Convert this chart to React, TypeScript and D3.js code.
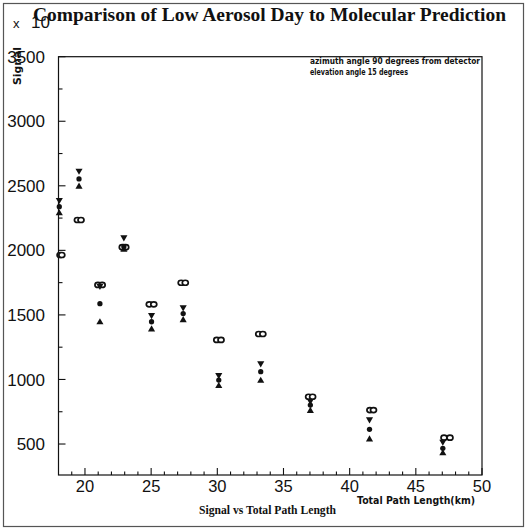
import React from "react";
import * as d3 from "d3";

// ---- data ----
const pathLength = [18.06, 19.55, 21.13, 22.94, 25.03, 27.42, 30.11, 33.28, 37.03, 41.5, 47.04];
const predX1 = [18.12, 19.43, 20.98, 22.82, 24.86, 27.27, 29.96, 33.13, 36.9, 41.53, 47.13];
const predX2 = [18.25, 19.7, 21.3, 23.08, 25.2, 27.58, 30.28, 33.44, 37.2, 41.8, 47.58];
const predicted = [1964, 2235, 1732, 2025, 1582, 1749, 1306, 1352, 866, 763, 549];
const signalHigh = [2390, 2617, 1725, 2101, 1499, 1559, 1034, 1125, 835, 691, 518];
const signalMid = [2338, 2553, 1587, 2030, 1447, 1510, 995, 1060, 802, 614, 467];
const signalLow = [2287, 2493, 1443, 2005, 1388, 1460, 949, 990, 756, 536, 428];

const xMajorTicks = [20, 25, 30, 35, 40, 45, 50];
const yMajorTicks = [500, 1000, 1500, 2000, 2500, 3000, 3500];

const titleText = "Comparison of Low Aerosol Day to Molecular Prediction";
const subTitle = "Signal vs Total Path Length";
const xLabel = "Total Path Length(km)";
const yLabel = "Signal";
const note1 = "azimuth angle 90 degrees from detector";
const note2 = "elevation angle 15 degrees";

export default function App() {
  const W = 528, H = 530;
  const left = 58.5, right = 482, top = 56.7, bottom = 475;
  const x = d3.scaleLinear().domain([18, 50]).range([left, right]);
  const y = d3.scaleLinear().domain([260, 3500]).range([bottom, top]);

  const xMinor = d3.range(19, 50, 1).filter((v) => v % 5 !== 0);
  const yMinor = d3.range(250, 3500, 250).filter((v) => v % 500 !== 0 && v > 260);

  const tri = d3.symbol().type(d3.symbolTriangle).size(22)() as string;
  const dot = d3.symbol().type(d3.symbolCircle).size(22)() as string;

  const sans = "'Liberation Sans', Arial, sans-serif";
  const gothic = "'DejaVu Sans', sans-serif";
  const serif = "'Liberation Serif', 'Times New Roman', serif";

  return (
    <svg
      width={W}
      height={H}
      style={{ position: "absolute", left: 0, top: 0, background: "#fff" }}
    >
      {/* outer frame */}
      <rect x={3.5} y={3.5} width={520} height={523} fill="none" stroke="#555" strokeWidth={1.2} />

      {/* plot box */}
      <rect x={left} y={top} width={right - left} height={bottom - top} fill="none" stroke="#111" strokeWidth={1.2} />

      {/* x ticks */}
      {xMajorTicks.map((v) => (
        <g key={"xt" + v}>
          <line x1={x(v)} x2={x(v)} y1={bottom} y2={bottom - 7} stroke="#111" strokeWidth={1.1} />
          <text x={x(v)} y={492} textAnchor="middle" fontFamily={sans} fontSize={16.5} fill="#111">
            {v}
          </text>
        </g>
      ))}
      {xMinor.map((v) => (
        <line key={"xm" + v} x1={x(v)} x2={x(v)} y1={bottom} y2={bottom - 3.5} stroke="#111" strokeWidth={1.1} />
      ))}

      {/* y ticks */}
      {yMajorTicks.map((v) => (
        <g key={"yt" + v}>
          <line x1={left} x2={left + 7} y1={y(v)} y2={y(v)} stroke="#111" strokeWidth={1.1} />
          <text x={45} y={y(v)} dy="0.36em" textAnchor="end" fontFamily={sans} fontSize={17} fill="#111">
            {v}
          </text>
        </g>
      ))}
      {yMinor.map((v) => (
        <line key={"ym" + v} x1={left} x2={left + 4} y1={y(v)} y2={y(v)} stroke="#111" strokeWidth={1.1} />
      ))}

      {/* y label */}
      <text
        transform={`translate(20.5, 47) rotate(-90)`}
        textAnchor="end"
        fontFamily={gothic}
        fontWeight="bold"
        fontSize={10}
        fill="#111"
        textLength={38}
        lengthAdjust="spacingAndGlyphs"
      >
        {yLabel}
      </text>

      {/* x 10 multiplier */}
      <text x={13} y={28} fontFamily={sans} fontSize={13} fill="#111">x</text>
      <text x={31} y={28} fontFamily={sans} fontSize={17} fill="#111">10</text>

      {/* title */}
      <text x={33} y={20.5} fontFamily={serif} fontWeight="bold" fontSize={19} fill="#111"
        textLength={473} lengthAdjust="spacingAndGlyphs">
        {titleText}
      </text>

      {/* annotation */}
      <text x={310} y={64} fontFamily={gothic} fontWeight={600} fontSize={9} fill="#111" textLength={170} lengthAdjust="spacingAndGlyphs">
        {note1}
      </text>
      <text x={310} y={75} fontFamily={gothic} fontWeight={600} fontSize={9} fill="#111" textLength={98} lengthAdjust="spacingAndGlyphs">
        {note2}
      </text>

      {/* axis titles */}
      <text x={475} y={504} textAnchor="end" fontFamily={gothic} fontWeight="bold" fontSize={10} fill="#111"
        textLength={118} lengthAdjust="spacingAndGlyphs">
        {xLabel}
      </text>
      <text x={199} y={514} fontFamily={serif} fontWeight="bold" fontSize={11.5} fill="#111"
        textLength={137} lengthAdjust="spacingAndGlyphs">
        {subTitle}
      </text>

      {/* data: molecular prediction (open circles, two columns) */}
      {predicted.map((v, i) => (
        <g key={"p" + i}>
          <ellipse cx={x(predX1[i])} cy={y(v)} rx={3} ry={2.5} fill="#fff" stroke="#111" strokeWidth={1.7} />
          <ellipse cx={x(predX2[i])} cy={y(v)} rx={3} ry={2.5} fill="#fff" stroke="#111" strokeWidth={1.7} />
        </g>
      ))}
      {/* measured: down triangles */}
      {signalHigh.map((v, i) => (
        <path key={"h" + i} d={tri} transform={`translate(${x(pathLength[i])},${y(v)}) rotate(180)`} fill="#111" />
      ))}
      {/* measured: filled circles */}
      {signalMid.map((v, i) => (
        <path key={"m" + i} d={dot} transform={`translate(${x(pathLength[i])},${y(v)})`} fill="#111" />
      ))}
      {/* measured: up triangles */}
      {signalLow.map((v, i) => (
        <path key={"l" + i} d={tri} transform={`translate(${x(pathLength[i])},${y(v)})`} fill="#111" />
      ))}
    </svg>
  );
}
